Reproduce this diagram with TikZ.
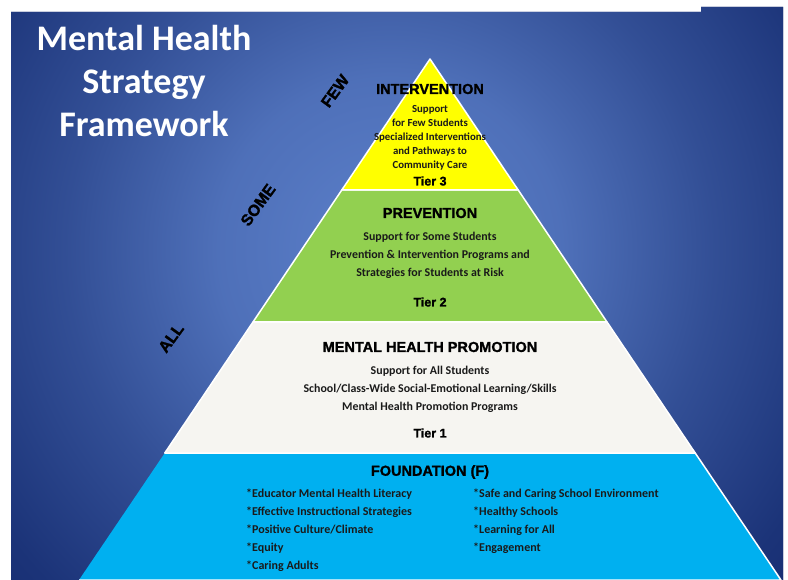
\documentclass[tikz,border=0pt]{standalone}
\usepackage{fontspec}
\setmainfont{Carlito}
\newfontfamily\headfont[BoldFeatures={FakeBold=1.4}]{Liberation Sans}
\usepackage{tikz}
\usetikzlibrary{positioning}
\usetikzlibrary{calc}

\definecolor{bgdark}{HTML}{10266A}
\definecolor{bglight}{HTML}{5C80CA}
\definecolor{tierthree}{HTML}{FFFF00}
\definecolor{tiertwo}{HTML}{92D050}
\definecolor{tierone}{HTML}{F6F5F1}
\definecolor{tierbase}{HTML}{00B0F0}
\definecolor{textdark}{HTML}{1A1A1A}
\pgfdeclareradialshading{glow}{\pgfpoint{0bp}{0bp}}{color(0bp)=(bglight); color(8bp)=(bglight!82!bgdark); color(15bp)=(bglight!45!bgdark); color(22bp)=(bglight!15!bgdark); color(28bp)=(bgdark); color(50bp)=(bgdark)}

\begin{document}
\begin{tikzpicture}[x=1pt,y=-1pt]
\tikzstyle{tier}=[draw=white,line width=1.5pt,line join=round]
\tikzstyle{head}=[font=\headfont\bfseries\fontsize{14.5}{17}\selectfont,text=black,inner sep=0pt]
\tikzstyle{body}=[font=\bfseries\fontsize{11.9}{18}\selectfont,text=textdark,align=center,inner sep=0pt]
\tikzstyle{tiername}=[font=\headfont\bfseries\fontsize{12.5}{15}\selectfont,text=black,inner sep=0pt]
\tikzstyle{side}=[font=\headfont\bfseries\fontsize{16}{18}\selectfont,text=black,rotate=54,inner sep=0pt]
\tikzstyle{item}=[font=\bfseries\fontsize{12}{18}\selectfont,text=textdark,align=left,inner sep=0pt,anchor=west]
\useasboundingbox (0,0) rectangle (788,580);
\fill[white] (0,0) rectangle (788,580);
% background
\begin{scope}
\clip (11,12) -- (701,12) -- (701,7) -- (783,7) -- (783,580) -- (11,580) -- cycle;
\fill[bgdark] (0,0) rectangle (788,580);
\shade[shading=glow] (390,250) circle (540);
\end{scope}
% pyramid
\coordinate (apex) at (430,59);
\fill[tierbase,tier] (164.8,453) -- (695.2,453) -- (781,580) -- (79,580);
\fill[tierone,tier] (253,322) -- (607,322) -- (695.2,453) -- (164.8,453) -- cycle;
\fill[tiertwo,tier] (341.8,190) -- (518.2,190) -- (607,322) -- (253,322) -- cycle;
\fill[tierthree,tier] (apex) -- (518.2,190) -- (341.8,190) -- cycle;
% title
\node[font=\bfseries\fontsize{36}{43}\selectfont,text=white,align=center] (title) at (144,81)
  {Mental Health\\Strategy\\Framework};
% side labels
\node[side] (few) at (335,91) {FEW};
\node[side] (some) at (258,205) {SOME};
\node[side] (all) at (171,338) {ALL};
% tier 3
\node[head] (int) at (430,89) {INTERVENTION};
\node[body,font=\bfseries\fontsize{10.8}{14}\selectfont] (intbody) at (430,138)
  {Support\\for Few Students\\Specialized Interventions\\and Pathways to\\Community Care};
\node[tiername] (tier3) at (430,181) {Tier 3};
% tier 2
\node[head] (prev) at (430,213) {PREVENTION};
\node[body] (prevbody) at (430,255)
  {Support for Some Students\\Prevention \& Intervention Programs and\\Strategies for Students at Risk};
\node[tiername] (tier2) at (430,302) {Tier 2};
% tier 1
\node[head] (prom) at (430,347) {MENTAL HEALTH PROMOTION};
\node[body] (prombody) at (430,389)
  {Support for All Students\\School/Class-Wide Social-Emotional Learning/Skills\\Mental Health Promotion Programs};
\node[tiername] (tier1) at (430,433) {Tier 1};
% foundation
\node[head] (found) at (430,472) {FOUNDATION (F)};
\node[item] (leftlist) at (246,530)
  {*Educator Mental Health Literacy\\*Effective Instructional Strategies\\*Positive Culture/Climate\\*Equity\\*Caring Adults};
\node[item] (rightlist) at (473,521)
  {*Safe and Caring School Environment\\*Healthy Schools\\*Learning for All\\*Engagement};
\end{tikzpicture}
\end{document}
